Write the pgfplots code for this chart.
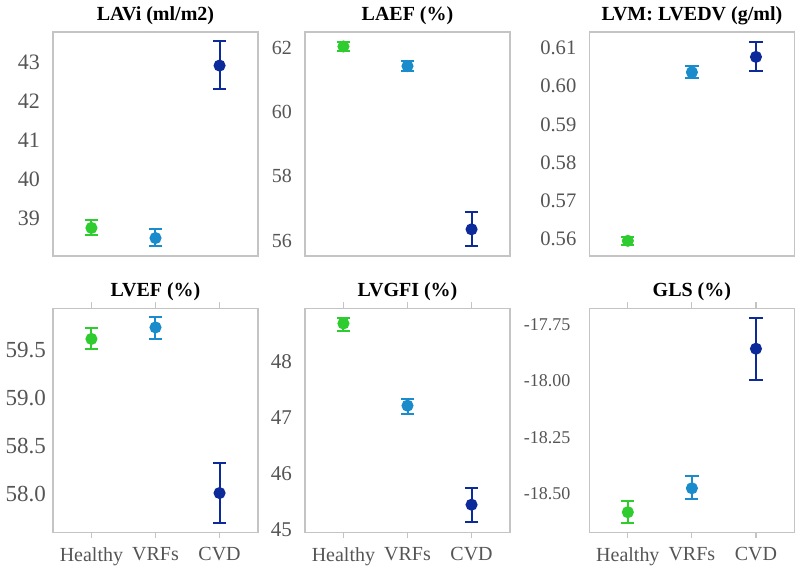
\documentclass[border=0pt]{standalone}
\usepackage{pgfplots}
\pgfplotsset{compat=1.18}
\usepackage{fontspec}
\setmainfont{Liberation Serif}
\definecolor{cH}{HTML}{2ECC2E}
\definecolor{cV}{HTML}{1A8CCC}
\definecolor{cC}{HTML}{0D2A9A}
\definecolor{frame}{HTML}{C4C4C4}
\definecolor{tgray}{HTML}{555555}
\pgfplotsset{
  panel/.style={
    scale only axis, width=102.5pt, height=112pt,
    anchor=south west,
    xmin=-0.6, xmax=2.6, xtick={0,1,2},
    axis line style={draw=frame, line width=0.6pt},
    ytick style={draw=none},
    tick label style={text=tgray},
    /pgf/number format/assume math mode=true,
    title style={font=\bfseries\fontsize{10}{10}\selectfont, text=black, yshift=-6pt},
    yticklabel style={xshift=-3pt},
  },
  toprow/.style={xticklabels={}, xtick style={draw=none}},
  botrow/.style={xticklabels={Healthy,VRFs,CVD},
    xtick style={draw=frame, line width=0.6pt}, tick align=outside, major tick length=3pt,
    xticklabel style={font=\fontsize{10}{10}\selectfont, yshift=-1pt}},
  pt/.style={color=#1, mark=*, mark size=2.5pt, mark options={fill=#1, draw=#1},
    line width=1pt,
    error bars/.cd, y dir=both, y explicit,
    error bar style={line width=1pt, color=#1},
    error mark options={rotate=90, mark size=3.3pt, line width=1pt, color=#1}},
}
\begin{document}
\begin{tikzpicture}
% Panel 1
\begin{axis}[panel, toprow, at={(26.5pt,156pt)}, title={LAVi (ml/m2)},
  ymin=38.03, ymax=43.77, ytick={39,40,41,42,43},
  yticklabel style={font=\fontsize{11}{11}\selectfont}]
\addplot+[pt=cH] coordinates {(0,38.75) += (0,0.20) -= (0,0.19)};
\addplot+[pt=cV] coordinates {(1,38.49) += (0,0.22) -= (0,0.21)};
\addplot+[pt=cC] coordinates {(2,42.91) += (0,0.62) -= (0,0.61)};
\end{axis}
% Panel 2
\begin{axis}[panel, toprow, at={(152.5pt,156pt)}, title={LAEF (\%)},
  ymin=55.52, ymax=62.49, ytick={56,58,60,62},
  yticklabel style={font=\fontsize{10}{10}\selectfont}]
\addplot+[pt=cH] coordinates {(0,62.04) += (0,0.13) -= (0,0.13)};
\addplot+[pt=cV] coordinates {(1,61.43) += (0,0.16) -= (0,0.15)};
\addplot+[pt=cC] coordinates {(2,56.35) += (0,0.54) -= (0,0.51)};
\end{axis}
% Panel 3
\begin{axis}[panel, toprow, at={(294.7pt,156pt)}, title={LVM: LVEDV (g/ml)},
  ymin=0.55564, ymax=0.6141, ytick={0.56,0.57,0.58,0.59,0.60,0.61},
  yticklabel style={font=\fontsize{10.3}{10}\selectfont,
    /pgf/number format/.cd, fixed, fixed zerofill, precision=2}]
\addplot+[pt=cH] coordinates {(0,0.5596) += (0,0.0010) -= (0,0.0010)};
\addplot+[pt=cV] coordinates {(1,0.6036) += (0,0.0015) -= (0,0.0015)};
\addplot+[pt=cC] coordinates {(2,0.6076) += (0,0.0040) -= (0,0.0038)};
\end{axis}
% Panel 4
\begin{axis}[panel, botrow, at={(26.5pt,17.85pt)}, title={LVEF (\%)},
  ymin=57.60, ymax=59.94, ytick={58.0,58.5,59.0,59.5},
  yticklabel style={font=\fontsize{11.5}{11}\selectfont, xshift=6pt,
    /pgf/number format/.cd, fixed, fixed zerofill, precision=1}]
\addplot+[pt=cH] coordinates {(0,59.62) += (0,0.11) -= (0,0.10)};
\addplot+[pt=cV] coordinates {(1,59.74) += (0,0.11) -= (0,0.12)};
\addplot+[pt=cC] coordinates {(2,58.01) += (0,0.31) -= (0,0.31)};
\end{axis}
% Panel 5
\begin{axis}[panel, botrow, at={(152.5pt,17.85pt)}, title={LVGFI (\%)},
  ymin=44.96, ymax=48.94, ytick={45,46,47,48},
  yticklabel style={font=\fontsize{10.5}{10}\selectfont, xshift=3pt}]
\addplot+[pt=cH] coordinates {(0,48.67) += (0,0.10) -= (0,0.13)};
\addplot+[pt=cV] coordinates {(1,47.21) += (0,0.12) -= (0,0.14)};
\addplot+[pt=cC] coordinates {(2,45.45) += (0,0.30) -= (0,0.31)};
\end{axis}
% Panel 6
\begin{axis}[panel, botrow, at={(294.7pt,17.85pt)}, title={GLS (\%)},
  ymin=-18.67, ymax=-17.678, ytick={-18.5,-18.25,-18,-17.75},
  yticklabel style={font=\fontsize{9}{9}\selectfont,
    /pgf/number format/.cd, fixed, fixed zerofill, precision=2}]
\addplot+[pt=cH] coordinates {(0,-18.581) += (0,0.050) -= (0,0.046)};
\addplot+[pt=cV] coordinates {(1,-18.475) += (0,0.055) -= (0,0.049)};
\addplot+[pt=cC] coordinates {(2,-17.857) += (0,0.137) -= (0,0.138)};
\end{axis}
\pgfresetboundingbox
\path (0,0) rectangle (400pt,284pt);
\end{tikzpicture}
\end{document}
